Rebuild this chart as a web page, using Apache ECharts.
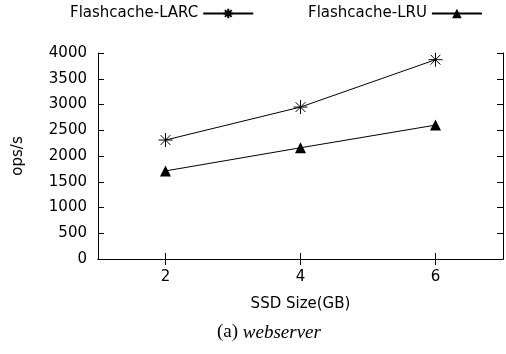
<!DOCTYPE html>
<html>
<head>
<meta charset="utf-8">
<script src="https://cdn.jsdelivr.net/npm/echarts@6/dist/echarts.min.js"></script>
<style>
  html, body { margin: 0; padding: 0; background: #fff; }
  #main { width: 506px; height: 354px; }
</style>
</head>
<body>
<div id="main"></div>
<script>
var ssdSizes = [2, 4, 6];
var larcOps = [2310, 2950, 3870];
var lruOps = [1710, 2160, 2600];
var yTicks = [0, 500, 1000, 1500, 2000, 2500, 3000, 3500, 4000];

var chartDom = document.getElementById('main');
var myChart = echarts.init(chartDom);

var font = 'DejaVu Sans';
var starPath = 'path://M0,-10L0,10M-10,0L10,0M-7,-7L7,7M-7,7L7,-7';

function pairs(xs, ys) {
    var list = [];
    for (var i = 0; i < xs.length; i++) {
        list.push([xs[i], ys[i]]);
    }
    return list;
}

var frameLine = { show: true, lineStyle: { color: '#000', width: 1 } };
var yTick = { show: true, inside: true, length: 6, lineStyle: { color: '#000' } };
var xTick = { show: true, inside: true, length: 6, lineStyle: { color: '#000' }, customValues: ssdSizes };

var option = {
    animation: false,
    backgroundColor: '#fff',
    textStyle: { fontFamily: font },
    grid: {
        left: 98,
        right: -2,
        top: 53,
        bottom: 95
    },
    legend: [{
        data: ['Flashcache-LARC'],
        left: 70,
        top: 6,
        padding: 0,
        align: 'right',
        itemWidth: 50,
        itemHeight: 12,
        textStyle: { fontFamily: font, fontSize: 15, color: '#000' }
    }, {
        data: ['Flashcache-LRU'],
        left: 308,
        top: 6,
        padding: 0,
        align: 'right',
        itemWidth: 50,
        itemHeight: 12,
        textStyle: { fontFamily: font, fontSize: 15, color: '#000' }
    }],
    title: {
        text: '{n|(a) }{i|webserver}',
        left: 212,
        top: 318,
        textStyle: {
            rich: {
                n: { fontFamily: 'Liberation Serif', fontSize: 19, fontWeight: 'normal', color: '#000' },
                i: { fontFamily: 'Liberation Serif', fontSize: 19, fontWeight: 'normal', fontStyle: 'italic', color: '#000' }
            }
        }
    },
    xAxis: [{
        type: 'value',
        min: 1,
        max: 7,
        interval: 1,
        name: 'SSD Size(GB)',
        nameLocation: 'middle',
        nameGap: 38,
        nameTextStyle: { fontFamily: font, fontSize: 15, color: '#000' },
        axisLabel: {
            fontFamily: font, fontSize: 15, color: '#000', margin: 11,
            formatter: function (v) { return ssdSizes.indexOf(v) >= 0 ? String(v) : ''; }
        },
        axisLine: frameLine,
        axisTick: xTick,
        splitLine: { show: false }
    }, {
        type: 'value',
        position: 'top',
        min: 1,
        max: 7,
        axisLabel: { show: false },
        axisLine: frameLine,
        axisTick: xTick,
        splitLine: { show: false }
    }],
    yAxis: [{
        type: 'value',
        min: yTicks[0],
        max: yTicks[yTicks.length - 1],
        interval: 500,
        name: 'ops/s',
        nameLocation: 'middle',
        nameGap: 72,
        nameTextStyle: { fontFamily: font, fontSize: 15, color: '#000' },
        axisLabel: {
            fontFamily: font, fontSize: 15, color: '#000', margin: 11,
            formatter: function (v) { return String(v); }
        },
        axisLine: frameLine,
        axisTick: yTick,
        splitLine: { show: false }
    }, {
        type: 'value',
        position: 'right',
        min: yTicks[0],
        max: yTicks[yTicks.length - 1],
        interval: 500,
        axisLabel: { show: false },
        axisLine: frameLine,
        axisTick: yTick,
        splitLine: { show: false }
    }],
    series: [{
        name: 'Flashcache-LARC',
        type: 'line',
        data: pairs(ssdSizes, larcOps),
        symbol: starPath,
        symbolSize: 14,
        lineStyle: { color: '#000', width: 1 },
        itemStyle: { color: '#000', borderColor: '#000', borderWidth: 1 }
    }, {
        name: 'Flashcache-LRU',
        type: 'line',
        data: pairs(ssdSizes, lruOps),
        symbol: 'triangle',
        symbolSize: 11,
        lineStyle: { color: '#000', width: 1 },
        itemStyle: { color: '#000' }
    }]
};

myChart.setOption(option);
</script>
</body>
</html>
